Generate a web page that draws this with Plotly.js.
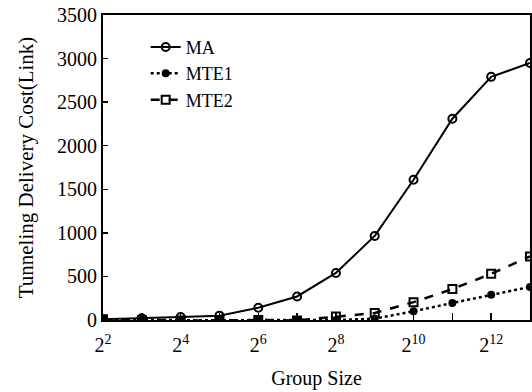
<!DOCTYPE html>
<html>
<head>
<meta charset="utf-8">
<script src="https://cdn.plot.ly/plotly-3.0.1.min.js"></script>
<style>html,body{margin:0;padding:0;background:#fff;}#chart{width:532px;height:392px;}</style>
</head>
<body>
<div id="chart"></div>
<script>
// Group size exponents (group size = 2^k)
const exponents = [2, 3, 4, 5, 6, 7, 8, 9, 10, 11, 12, 13];
const groupSize = exponents.map(k => Math.pow(2, k));
const maCost   = [10, 20, 35, 50, 140, 270, 540, 965, 1610, 2310, 2790, 2950];
const mte1Cost = [5, 0, -5, -5, 0, 0, 0, 15, 100, 195, 290, 380];
const mte2Cost = [10, 0, -5, -5, 0, -5, 40, 80, 205, 355, 530, 730];
const seriesNames = ['MA', 'MTE1', 'MTE2'];
const labelExponents = [2, 4, 6, 8, 10, 12];
const xTickVals = labelExponents.map(k => Math.pow(2, k));
const xTickLabels = labelExponents.map(k => '2<sup>' + k + '</sup>');
const yTicks = [0, 500, 1000, 1500, 2000, 2500, 3000, 3500];

const font = 'Liberation Serif, Times New Roman, serif';

const traces = [
  {x: groupSize, y: maCost, name: seriesNames[0], mode: 'lines+markers',
   line: {color: '#000', width: 2, dash: 'solid'},
   marker: {symbol: 'circle-open', size: 8, color: '#000', line: {width: 2, color: '#000'}}},
  {x: groupSize, y: mte1Cost, name: seriesNames[1], mode: 'lines+markers',
   line: {color: '#000', width: 2.5, dash: 'dot'},
   marker: {symbol: 'circle', size: 8, color: '#000'}},
  {x: groupSize, y: mte2Cost, name: seriesNames[2], mode: 'lines+markers',
   line: {color: '#000', width: 2.5, dash: 'dash'},
   marker: {symbol: 'square-open', size: 8, color: '#000', line: {width: 2, color: '#000'}}}
];

const layout = {
  width: 532, height: 392,
  margin: {l: 103, r: 2, t: 15, b: 72},
  paper_bgcolor: '#fff', plot_bgcolor: '#fff',
  font: {family: font, color: '#000', size: 20},
  showlegend: true,
  legend: {x: 0.1, y: 0.955, xanchor: 'left', yanchor: 'top',
           bgcolor: 'rgba(0,0,0,0)', font: {family: font, size: 18, color: '#000'}},
  xaxis: {
    type: 'log',
    range: [Math.log10(groupSize[0]), Math.log10(groupSize[groupSize.length - 1])],
    tickmode: 'array', tickvals: xTickVals, ticktext: xTickLabels,
    ticks: 'inside', ticklen: 7, tickwidth: 1.5, tickcolor: '#000',
    ticklabelstandoff: 6,
    minor: {tickmode: 'array', tickvals: groupSize, ticks: 'inside', ticklen: 7, tickwidth: 1.5, tickcolor: '#000', showgrid: false},
    showline: true, linecolor: '#000', linewidth: 2, mirror: true,
    showgrid: false, zeroline: false,
    tickfont: {family: font, size: 20, color: '#000'},
    title: {text: 'Group Size', font: {family: font, size: 20, color: '#000'}, standoff: 16}
  },
  yaxis: {
    range: [0, 3500],
    tickvals: yTicks,
    ticks: 'inside', ticklen: 5, tickwidth: 1.5, tickcolor: '#000',
    showline: true, linecolor: '#000', linewidth: 2, mirror: true,
    showgrid: false, zeroline: false,
    tickfont: {family: font, size: 20, color: '#000'},
    title: {text: 'Tunneling Delivery Cost(Link)', font: {family: font, size: 21, color: '#000'}, standoff: 18}
  }
};

Plotly.newPlot('chart', traces, layout, {displayModeBar: false, staticPlot: true});
</script>
</body>
</html>
